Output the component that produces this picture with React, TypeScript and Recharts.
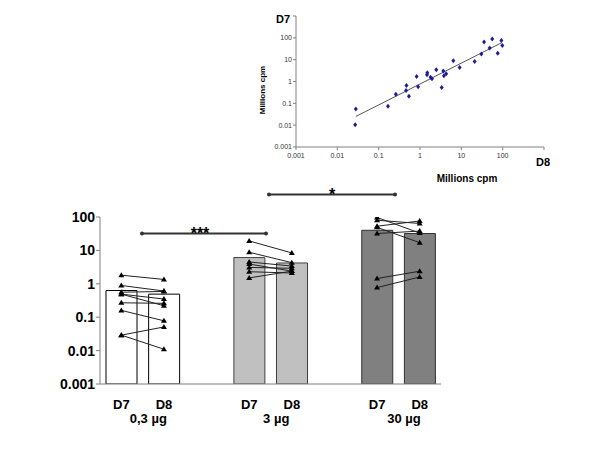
import { Bar, Cell, ComposedChart, Line, Scatter, ScatterChart, XAxis, YAxis } from "recharts";

// inset: D8 vs D7, millions cpm
const scatterD8 = [0.028, 0.027, 0.168, 0.26, 0.47, 0.46, 0.54, 0.83, 0.9, 1.48, 1.5, 1.8, 1.95, 2.48, 3.35, 3.67, 3.8, 4.3, 6.4, 9.1, 21, 30.5, 35.5, 48.6, 56, 76, 93, 98];
const scatterD7 = [0.055, 0.0105, 0.073, 0.26, 0.65, 0.385, 0.21, 1.7, 0.57, 2.03, 2.5, 1.58, 1.33, 3.45, 0.53, 3.0, 1.83, 2.25, 9.0, 4.4, 8.3, 18, 65, 34, 89, 19.5, 75, 44];
const trendD8 = [0.028, 95];
const trendD7 = [0.025, 60];
const logTicks = [0.001, 0.01, 0.1, 1, 10, 100, 1000];

// main chart
const categories = ["D7", "D8", "", "D7", "D8", "", "D7", "D8"];
const doses = ["0,3 µg", "3 µg", "30 µg"];
const meanD7 = [0.63, 6.1, 40];
const meanD8 = [0.49, 4.2, 32];
const lowD7 = [1.81, 0.89, 0.56, 0.49, 0.49, 0.27, 0.16, 0.029, 0.029];
const lowD8 = [1.35, 0.61, 0.59, 0.35, 0.22, 0.26, 0.078, 0.051, 0.011];
const midD7 = [19.2, 8.8, 4.5, 3.9, 3.1, 2.3, 1.5];
const midD8 = [8.4, 4.3, 3.4, 2.4, 2.9, 2.1, 2.4];
const highD7 = [97, 80, 53, 49, 32, 1.44, 0.77];
const highD8 = [33, 64, 76, 17, 38, 2.38, 1.6];
const yTicks = [0.001, 0.01, 0.1, 1, 10, 100];

const pairs = [
  { d7: lowD7, d8: lowD8 },
  { d7: midD7, d8: midD8 },
  { d7: highD7, d8: highD8 },
];
const barFill = ["#ffffff", "#c0c0c0", "#808080"];
const barStroke = ["#000000", "#404040", "#303030"];

const scatterData = scatterD8.map((x, i) => ({ x, y: scatterD7[i] }));
const trendData = trendD8.map((x, i) => ({ x, y: trendD7[i] }));

const lineKeys = pairs.flatMap((p, g) => p.d7.map((_, j) => `g${g}s${j}`));

const rows = categories.map((label, i) => {
  const g = Math.floor(i / 3);
  const pos = i % 3;
  const row: Record<string, unknown> = { id: `c${i}`, label };
  if (pos === 0) row.mean = meanD7[g];
  if (pos === 1) row.mean = meanD8[g];
  if (pos < 2) {
    const src = pos === 0 ? pairs[g].d7 : pairs[g].d8;
    src.forEach((v, j) => {
      row[`g${g}s${j}`] = v;
    });
  }
  return row;
});

const font = "Arial, 'Liberation Sans', sans-serif";

const Triangle = (props: any) => {
  const { cx, cy, value, index, dataKey } = props;
  if (cx == null || cy == null || value == null) return <g key={`${dataKey}-${index}`} />;
  return <path key={`${dataKey}-${index}`} d={`M${cx},${cy - 3} L${cx + 3},${cy + 2} L${cx - 3},${cy + 2} Z`} fill="#000" />;
};

const Diamond = (props: any) => {
  const { cx, cy } = props;
  if (cx == null || cy == null) return <g />;
  return <path d={`M${cx},${cy - 2.5} L${cx + 2},${cy} L${cx},${cy + 2.5} L${cx - 2},${cy} Z`} fill="#1c1c9c" />;
};

const CategoryTick = (props: any) => {
  const { x, y, payload } = props;
  const i = payload.index as number;
  const g = Math.floor(i / 3);
  return (
    <g>
      <text x={x} y={y + 17} textAnchor="middle" fontFamily={font} fontWeight="bold" fontSize={13} fill="#000">
        {categories[i]}
      </text>
      {i % 3 === 0 && (
        <text x={x + 27} y={y + 31} textAnchor="middle" fontFamily={font} fontWeight="bold" fontSize={13} fill="#000">
          {doses[g]}
        </text>
      )}
    </g>
  );
};

export default function App() {
  return (
    <div style={{ position: "absolute", left: 0, top: 0, width: 600, height: 450, background: "#fff" }}>
      <div style={{ position: "absolute", left: 0, top: 0 }}>
        <ScatterChart width={600} height={200} margin={{ top: 16, right: 56, bottom: 33, left: 246 }}>
          <XAxis
            type="number"
            dataKey="x"
            scale="log"
            domain={[0.001, 1000]}
            ticks={logTicks}
            allowDataOverflow
            height={20}
            tickSize={3}
            tickMargin={3}
            stroke="#808080"
            tick={{ fontSize: 7, fill: "#333", fontFamily: font }}
            tickFormatter={(v: number) => (v === 1000 ? "" : String(v))}
          />
          <YAxis
            type="number"
            dataKey="y"
            scale="log"
            domain={[0.001, 1000]}
            ticks={logTicks}
            allowDataOverflow
            width={50}
            tickSize={3}
            tickMargin={1}
            stroke="#808080"
            tick={{ fontSize: 7, fill: "#333", fontFamily: font }}
            tickFormatter={(v: number) => (v === 1000 ? "" : String(v))}
          />
          <Scatter data={trendData} line={{ stroke: "#555", strokeWidth: 1 }} shape={() => <g />} isAnimationActive={false} />
          <Scatter data={scatterData} fill="#1c1c9c" shape={Diamond} isAnimationActive={false} />
        </ScatterChart>
      </div>
      <div style={{ position: "absolute", left: 0, top: 0 }}>
        <ComposedChart width={600} height={450} data={rows} margin={{ top: 217, right: 159, bottom: 36, left: 40 }}>
          <XAxis dataKey="id" height={30} stroke="#808080" tickLine={false} interval={0} tick={<CategoryTick />} />
          <YAxis
            scale="log"
            domain={[0.001, 100]}
            ticks={yTicks}
            allowDataOverflow
            width={60}
            tickSize={4}
            tickMargin={1}
            stroke="#808080"
            tick={{ fontSize: 14, fontWeight: "bold", fill: "#000", fontFamily: font }}
            tickFormatter={(v: number) => String(v)}
          />
          <Bar dataKey="mean" barSize={31} isAnimationActive={false}>
            {rows.map((_, i) => (
              <Cell key={i} fill={barFill[Math.floor(i / 3)]} stroke={barStroke[Math.floor(i / 3)]} strokeWidth={1} />
            ))}
          </Bar>
          {lineKeys.map((k) => (
            <Line
              key={k}
              dataKey={k}
              type="linear"
              stroke="#222"
              strokeWidth={1}
              dot={Triangle}
              activeDot={false}
              connectNulls={false}
              isAnimationActive={false}
            />
          ))}
        </ComposedChart>
      </div>
      <svg width={600} height={450} style={{ position: "absolute", left: 0, top: 0, pointerEvents: "none" }}>
        <g fontFamily={font} fontWeight="bold" fill="#000">
          <text x={283} y={23} textAnchor="middle" fontSize={11}>D7</text>
          <text x={543} y={166} textAnchor="middle" fontSize={11}>D8</text>
          <text x={467} y={182} textAnchor="middle" fontSize={10}>Millions cpm</text>
          <text x={265} y={90} textAnchor="middle" fontSize={8} transform="rotate(-90 265 90)">Millions cpm</text>
        </g>
        <g stroke="#333" strokeWidth={2}>
          <line x1={142} y1={233.5} x2={266} y2={233.5} />
          <line x1={269} y1={194.5} x2={395} y2={194.5} />
        </g>
        <g fill="#333">
          <circle cx={142} cy={233.5} r={2} />
          <circle cx={266} cy={233.5} r={2} />
          <circle cx={269} cy={194.5} r={2} />
          <circle cx={395} cy={194.5} r={2} />
        </g>
        <g fontFamily={font} fontWeight="bold" fontSize={16} fill="#000" textAnchor="middle">
          <text x={200} y={239}>***</text>
          <text x={332} y={200}>*</text>
        </g>
      </svg>
    </div>
  );
}
